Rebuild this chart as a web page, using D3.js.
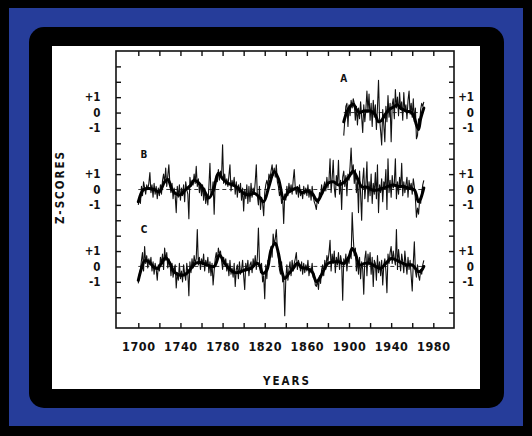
<!DOCTYPE html>
<html><head><meta charset="utf-8">
<script src="https://cdn.jsdelivr.net/npm/d3@7"></script>
<style>
html,body{margin:0;padding:0;background:#000;}
svg{display:block;}
text{font-family:'DejaVu Sans Condensed','DejaVu Sans',sans-serif;font-stretch:condensed;font-weight:bold;fill:#111;}
</style></head><body>
<svg id="chart" width="532" height="436"></svg>
<script>
// ---------------- DATA ----------------
const xTickYears = [1700,1720,1740,1760,1780,1800,1820,1840,1860,1880,1900,1920,1940,1960,1980];
const xLabelYears = [1700,1740,1780,1820,1860,1900,1940,1980];
const yTickLabels = ["+1","0","-1"];
const yTickValues = [1,0,-1];
const panelNames = ["A","B","C"];
const panelOffsets = [14,9,4];        // zero line of each panel in axis units
const startA = 1895;
const startB = 1700;
const startC = 1700;

// annual z-scores, series A (1895-1971)
const seriesA = [
 -1.5,-0.5,0.4,0.6,-0.9,
 0.5,-0.2,0.8,0.3,0.9,0.6,-0.5,0.4,-0.8,0.3,
 -0.4,0.7,-0.3,-1.3,0.5,-0.6,0.2,1.4,0.1,1.2,
 -0.5,0.6,-0.9,0.8,-0.3,0.5,-1.1,0.3,2.1,-0.4,
 -1.2,-2.1,0.2,-0.8,-1.9,0.4,-0.6,1.1,-0.3,0.6,
 -1.9,0.5,0.9,-0.4,1.5,0.3,1.0,-0.2,1.3,0.2,
 0.7,-0.5,1.3,0.1,0.5,-0.4,0.8,1.4,-0.1,0.6,
 -0.3,0.9,-0.6,0.3,-1.7,-1.5,-0.4,-0.9,0.2,0.6,
 0.4,0.7
];
// annual z-scores, series B (1700-1971)
const seriesB = [
 -1.0,-0.6,-0.9,0.2,-0.4,0.5,0.1,-0.3,0.3,0.0,
 0.4,1.1,-0.2,0.3,-0.5,0.4,-0.3,0.2,-0.6,0.1,
 -0.4,0.3,-0.3,0.6,1.0,0.4,1.4,0.2,0.9,1.6,
 0.3,-0.2,0.4,-0.6,0.1,-0.4,-1.5,0.2,-0.5,0.3,
 -0.7,0.1,-0.4,0.3,-0.8,0.5,0.0,-0.3,-1.9,0.8,
 0.2,0.6,0.3,1.0,0.4,1.5,0.2,0.7,-0.2,0.4,
 -0.4,0.3,-0.7,0.1,-0.9,-0.3,-1.0,0.2,1.7,-0.4,
 -0.2,0.5,-1.6,0.4,0.9,0.5,1.3,0.6,1.2,0.8,
 2.9,0.4,1.0,0.3,0.7,0.2,0.9,1.6,-0.1,0.6,
 0.2,0.8,-0.3,0.5,-0.5,0.3,-0.2,0.4,-0.7,0.1,
 -1.4,0.0,-0.6,0.3,-0.9,0.2,-0.8,0.4,-0.5,0.1,
 -0.3,0.5,1.6,-0.4,-1.0,0.2,-1.3,-0.5,-0.9,-1.7,
 -0.2,0.3,0.6,0.2,1.0,0.7,1.2,1.6,0.9,1.4,
 0.8,1.6,0.5,0.2,-0.4,-0.1,-0.9,-0.5,-2.2,-0.3,
 -0.7,0.2,-0.4,0.4,-0.2,0.3,-0.3,0.6,1.3,0.1,
 -0.3,0.2,-0.5,0.3,-0.4,-0.1,-0.6,0.2,-0.3,0.1,
 -0.4,0.3,-0.5,0.0,-0.7,0.2,-0.4,-0.8,-1.0,-1.3,
 -0.6,-0.9,-0.2,-0.5,0.3,-0.3,0.2,0.5,-0.1,0.8,
 0.1,0.6,2.0,-0.2,0.7,1.9,0.1,-0.5,0.9,0.3,
 1.9,-0.3,0.6,-1.3,0.8,1.2,0.2,0.9,-0.4,1.0,
 0.6,1.5,2.7,1.0,1.6,0.4,1.3,-0.2,0.5,-1.5,
 1.2,-0.3,-2.0,0.6,1.4,-0.6,0.3,1.8,-0.8,0.5,
 -0.4,1.0,-0.9,0.4,-0.3,1.1,-0.6,1.6,-1.5,0.3,
 -0.2,0.7,-0.8,0.5,0.2,1.3,-1.3,2.0,-0.2,0.6,
 -0.5,0.9,0.1,0.4,2.0,-0.6,0.5,-0.3,0.8,0.1,
 1.7,-0.4,0.5,-0.2,0.3,0.8,-0.5,0.6,0.0,0.4,
 -0.3,0.7,0.2,-0.6,-1.8,-1.2,-1.6,-0.7,-0.9,-0.2,
 0.3,0.6
];
// annual z-scores, series C (1700-1971)
const seriesC = [
 -1.1,-0.5,-0.2,0.4,0.9,-0.3,1.3,0.2,0.7,-0.1,
 0.5,0.1,0.6,-0.3,0.3,-0.5,0.2,-0.2,-0.9,0.1,
 -0.3,0.6,0.2,0.8,-0.2,1.2,0.4,0.9,-0.1,0.5,
 0.3,-0.6,0.2,-0.7,-0.2,0.1,-1.4,-0.4,-0.9,0.2,
 -0.8,-0.3,-1.0,0.1,-0.5,-0.9,0.2,-0.4,-1.9,0.3,
 -0.4,0.5,-0.1,0.7,0.2,0.5,2.4,0.1,0.6,-0.2,
 0.5,0.1,0.8,-0.3,0.4,0.0,0.6,-0.4,0.3,-0.6,
 0.2,-1.2,-0.3,0.5,0.9,0.3,1.2,0.8,1.0,0.4,
 -0.2,0.6,0.1,0.5,-0.3,0.2,-0.6,0.4,-0.5,-0.1,
 -0.7,0.2,-1.3,-0.2,0.1,-0.8,0.3,-0.5,-0.2,0.4,
 -0.6,-1.5,0.2,-0.3,0.4,-0.6,0.1,0.3,-0.4,0.5,
 0.0,0.7,-0.2,0.6,2.5,0.3,-0.4,0.2,-1.0,-0.6,
 -2.1,0.1,-0.8,0.4,0.2,0.9,1.3,0.6,2.1,1.4,
 1.8,2.4,1.1,0.5,-0.2,-0.5,0.3,-1.0,-0.6,-3.2,
 -0.8,0.1,-0.9,-0.2,0.3,-0.6,0.4,-0.3,0.2,0.5,
 0.9,-0.2,0.4,0.1,-0.3,0.3,-0.5,0.2,-0.4,0.1,
 -0.3,0.4,-0.6,-0.1,-0.4,0.2,-0.7,-0.5,-1.2,-1.3,
 -0.9,-1.5,-0.6,-1.1,-0.2,0.1,-0.6,0.4,-0.2,0.7,
 0.3,0.9,1.7,-0.3,0.8,0.2,1.0,-0.4,0.6,0.1,
 0.9,-0.2,0.7,0.3,-2.2,0.5,0.1,0.8,-0.3,0.6,
 0.2,1.0,0.5,3.5,1.9,0.7,1.2,-0.3,0.4,-0.5,
 0.6,-0.8,0.3,-0.2,-1.8,0.5,1.0,-0.6,0.8,0.1,
 0.9,-0.5,0.6,-1.3,0.4,0.2,-0.9,0.7,-0.4,0.3,
 -0.6,0.4,-1.2,0.1,0.5,-0.3,-1.7,0.8,0.2,0.9,
 1.3,0.2,1.0,0.5,0.1,2.4,-0.2,1.1,0.4,-0.3,
 0.8,0.3,-0.4,1.0,0.2,-0.5,0.6,-0.2,0.4,-0.6,
 -1.6,0.2,1.6,-0.3,-0.7,0.1,-0.6,-0.9,-0.2,-0.5,
 0.1,0.4
];

// smoothed curves (read at irregular years)
const smoothYearsA = [1895,1898,1901,1904,1907,1910,1914,1918,1922,1925,1928,1931,1934,1937,1940,1943,1946,1949,1952,1955,1958,1961,1964,1966,1968,1971];
const smoothA      = [-0.6,0.05,0.4,0.55,0.2,0.0,0.1,0.12,0.05,-0.15,-0.6,-0.5,-0.15,0.12,0.28,0.39,0.5,0.28,0.17,0.06,0.06,-0.15,-0.8,-1.1,-0.4,0.3];
const smoothYearsB = [1700,1705,1710,1715,1720,1725,1728,1732,1735,1740,1745,1750,1753,1757,1762,1767,1771,1776,1780,1785,1790,1795,1800,1805,1810,1815,1819,1824,1829,1833,1838,1842,1847,1851,1855,1860,1865,1870,1875,1880,1885,1890,1895,1900,1904,1908,1912,1917,1922,1927,1932,1937,1942,1947,1952,1957,1962,1966,1968,1971];
const smoothB      = [-0.8,0.0,0.07,0.0,-0.15,0.5,0.65,0.0,-0.25,-0.35,0.0,0.3,0.6,0.45,0.0,-0.55,-0.1,1.05,0.7,0.4,0.3,0.07,-0.25,-0.35,-0.25,-0.5,-0.8,0.2,1.15,0.7,-0.6,-0.2,0.0,0.1,-0.2,-0.1,-0.25,-0.75,-0.15,0.4,0.5,0.3,0.45,0.83,1.2,0.72,0.18,0.15,-0.03,-0.03,0.07,0.2,0.3,0.2,0.2,0.07,-0.03,-0.8,-0.6,0.1];
const smoothYearsC = [1700,1703,1706,1710,1714,1718,1722,1726,1730,1734,1740,1745,1750,1755,1760,1765,1772,1777,1782,1787,1792,1797,1802,1807,1812,1815,1818,1822,1826,1830,1833,1836,1839,1843,1847,1851,1855,1860,1865,1869,1872,1876,1880,1885,1890,1895,1900,1903,1906,1910,1915,1920,1925,1930,1935,1940,1945,1950,1955,1960,1963,1966,1969,1971];
const smoothC      = [-0.9,-0.13,0.37,0.3,0.0,-0.13,0.2,0.57,0.2,-0.35,-0.57,-0.5,-0.13,0.24,0.24,0.1,0.0,0.74,0.2,-0.2,-0.4,-0.35,-0.2,-0.13,0.2,0.1,-0.45,-0.24,1.06,1.5,0.85,-0.24,-0.78,-0.45,-0.13,0.2,-0.07,-0.13,-0.35,-1.0,-0.78,-0.24,0.2,0.3,0.3,0.2,0.63,1.17,0.85,0.1,0.2,0.2,0.0,-0.13,0.2,0.52,0.41,0.24,0.1,0.1,-0.13,-0.35,-0.24,0.0];

// ---------------- DRAW ----------------
const svg = d3.select("#chart");
// background layers
svg.append("rect").attr("x",0).attr("y",0).attr("width",532).attr("height",436).attr("fill","#000");
svg.append("rect").attr("x",9).attr("y",8).attr("width",514).attr("height",418).attr("fill","#263d9a");
svg.append("rect").attr("x",29).attr("y",27).attr("width",475).attr("height",381).attr("rx",15).attr("fill","#000");
svg.append("rect").attr("x",52).attr("y",46).attr("width",428).attr("height",343).attr("fill","#fff");

const x = d3.scaleLinear().domain([1700,1980]).range([138.3,433.3]);
const y = d3.scaleLinear().domain([0,18]).range([328,51]);
const frame = {l:116, r:454, t:51, b:328};
const gridTicks = d3.range(1,18);

const ink = "#111";
function styleAxis(g){
  g.select(".domain").remove();
  g.selectAll(".tick line").attr("stroke",ink).attr("stroke-width",1.4);
}
svg.append("g").attr("transform",`translate(0,${frame.b})`)
  .call(d3.axisBottom(x).tickValues(xTickYears).tickSize(-5).tickPadding(14)
        .tickFormat(d => xLabelYears.includes(d) ? String(d) : ""))
  .call(styleAxis)
  .call(g => g.selectAll(".tick text").attr("font-size",12.5).attr("letter-spacing","0.6px")
        .attr("font-family",null).attr("fill","#111"));
svg.append("g").attr("transform",`translate(0,${frame.t})`)
  .call(d3.axisTop(x).tickValues(xTickYears).tickSize(-5).tickFormat(""))
  .call(styleAxis);
svg.append("g").attr("transform",`translate(${frame.l},0)`)
  .call(d3.axisLeft(y).tickValues(gridTicks).tickSize(-5).tickFormat(""))
  .call(styleAxis);
svg.append("g").attr("transform",`translate(${frame.r},0)`)
  .call(d3.axisRight(y).tickValues(gridTicks).tickSize(-5).tickFormat(""))
  .call(styleAxis);

svg.append("rect").attr("x",frame.l).attr("y",frame.t)
  .attr("width",frame.r-frame.l).attr("height",frame.b-frame.t)
  .attr("fill","none").attr("stroke",ink).attr("stroke-width",1.6);

// panel tick labels
panelOffsets.forEach(off => {
  yTickValues.forEach((v,i) => {
    svg.append("text").attr("x",100.5).attr("y",y(off+v)).attr("dy","0.36em")
      .attr("text-anchor","end").attr("font-size",11.5).text(yTickLabels[i]);
    svg.append("text").attr("x",474).attr("y",y(off+v)).attr("dy","0.36em")
      .attr("text-anchor","end").attr("font-size",11.5).text(yTickLabels[i]);
  });
});

// panel letters
svg.append("text").attr("x",343.7).attr("y",y(panelOffsets[0]+2.2)).attr("dy","0.36em").attr("text-anchor","middle").attr("font-size",10).text(panelNames[0]);
svg.append("text").attr("x",144).attr("y",y(panelOffsets[1]+2.3)).attr("dy","0.36em").attr("text-anchor","middle").attr("font-size",10).text(panelNames[1]);
svg.append("text").attr("x",144).attr("y",y(panelOffsets[2]+2.4)).attr("dy","0.36em").attr("text-anchor","middle").attr("font-size",10).text(panelNames[2]);

// axis titles
svg.append("text").attr("x",287).attr("y",380.5).attr("dy","0.36em").attr("text-anchor","middle")
  .attr("font-size",11.5).attr("letter-spacing","2px").text("YEARS");
svg.append("text").attr("transform","translate(60,187) rotate(-90)").attr("dy","0.36em")
  .attr("text-anchor","middle").attr("font-size",11.5).attr("letter-spacing","2px").text("Z-SCORES");

// series
const panels = [
  {vals:seriesA, start:startA, sy:smoothYearsA, sv:smoothA, off:panelOffsets[0]},
  {vals:seriesB, start:startB, sy:smoothYearsB, sv:smoothB, off:panelOffsets[1]},
  {vals:seriesC, start:startC, sy:smoothYearsC, sv:smoothC, off:panelOffsets[2]}
];
panels.forEach(p => {
  const endYear = p.start + p.vals.length - 1;
  svg.append("line").attr("x1",x(p.start)).attr("x2",x(endYear))
    .attr("y1",y(p.off)).attr("y2",y(p.off))
    .attr("stroke","#222").attr("stroke-width",0.9).attr("stroke-dasharray","4,3");
  const thin = d3.line().x((d,i) => x(p.start+i)).y(d => y(p.off+d));
  svg.append("path").datum(p.vals).attr("d",thin)
    .attr("fill","none").attr("stroke","#111").attr("stroke-width",1.1).attr("stroke-linejoin","round");
  const thick = d3.line().x(d => x(d[0])).y(d => y(p.off+d[1])).curve(d3.curveCatmullRom.alpha(0.5));
  svg.append("path").datum(p.sy.map((yr,i)=>[yr,p.sv[i]])).attr("d",thick)
    .attr("fill","none").attr("stroke","#000").attr("stroke-width",3).attr("stroke-linejoin","round").attr("stroke-linecap","round");
});
</script>
</body></html>
